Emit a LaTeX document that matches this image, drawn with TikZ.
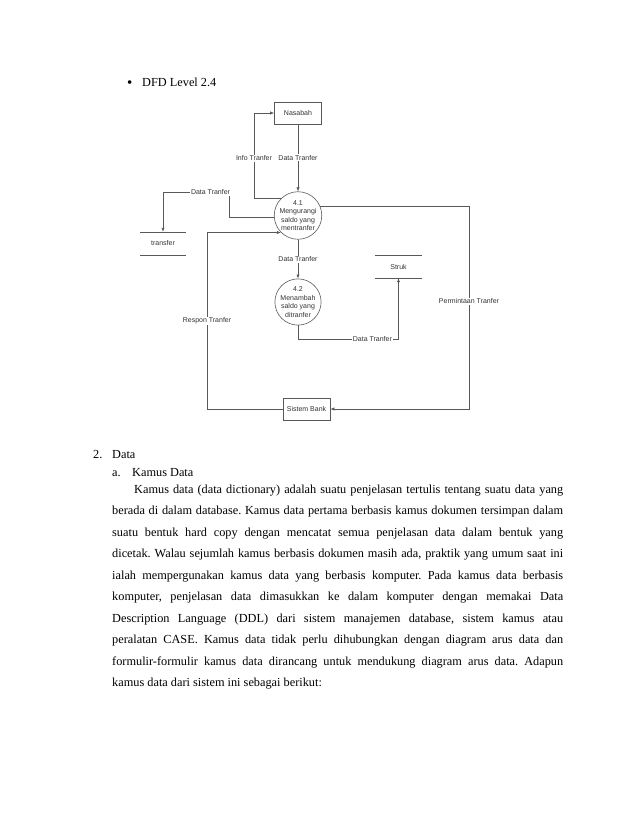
\documentclass[tikz,border=0pt]{standalone}
\usepackage{fontspec}
\setmainfont{Liberation Serif}
\newfontfamily\dfdfont{Liberation Sans}
\usetikzlibrary{arrows.meta,positioning}
\newcommand\dfdtext{\dfdfont\fontsize{7}{8.4}\selectfont}
\newcommand\bodytext{\fontsize{12.3}{21.55}\selectfont\frenchspacing}

\begin{document}
\begin{tikzpicture}[x=1pt, y=-1pt,
    line/.style    = {draw=black!65, line width=0.6pt},
    flow/.style    = {line, -{Latex[length=4pt,width=3.2pt]}},
    entity/.style  = {rectangle, draw=black!65, line width=0.6pt,% external entities
                      minimum width=47pt, minimum height=22pt,
                      inner sep=0pt, font=\dfdtext, text=black!80},
    process/.style = {circle, draw=black!65, line width=0.6pt,% processes
                      minimum size=44pt, inner sep=0pt, align=center,
                      font=\dfdtext, text=black!80},
    store/.style   = {minimum width=46pt, minimum height=23pt,% data stores
                      inner sep=0pt, font=\dfdtext, text=black!80},
    lbl/.style     = {fill=white, inner sep=1pt, font=\dfdtext, text=black!80},
    bodyline/.style = {anchor=base west, inner sep=0pt, font=\bodytext},
                        ]
\useasboundingbox (0,0) rectangle (638,826);
% heading
\node[bodyline, font=\fontsize{15}{15}\selectfont] (bullet) at (127,88) {\textbullet};
\node[bodyline] (dfdtitle) at (142,87) {DFD Level 2.4};
% DFD level 2.4
\node[entity]  (nasabah) at (298,113)   {Nasabah};
\node[process] (p41)     at (298,215.5) {4.1\\Mengurangi\\saldo yang\\mentranfer};
\node[process] (p42)     at (298,302)   {4.2\\Menambah\\saldo yang\\ditranfer};
\node[entity]  (bank)    at (306.5,409) {Sistem Bank};
\node[store]   (trf)     at (163,243.5) {transfer};
\node[store, minimum width=47pt] (struk) at (398.5,266.5) {Struk};
\draw[line] (trf.north west) -- (trf.north east) (trf.south west) -- (trf.south east);
\draw[line] (struk.north west) -- (struk.north east) (struk.south west) -- (struk.south east);
\coordinate (infoturn)  at (254,0);
\coordinate (trfturn)   at (229,192);
\coordinate (rspturn)   at (207,0);
\coordinate (reqturn)   at (469,0);
\coordinate (strukturn) at (0,339);
\draw[flow] (nasabah) -- node[lbl] {Data Tranfer} (p41);
\draw[flow] (p41.135) -- (p41.135 -| infoturn)
            |- node[lbl, pos=0.235] {Info Tranfer} (nasabah.west);
\draw[flow] (p41.184) -| (trfturn)
            -| node[lbl, pos=0.14] {Data Tranfer} (trf.north);
\draw[flow] (bank.west) -| node[lbl, pos=0.75] {Respon Tranfer} (rspturn |- p41.225)
            -- (p41.225);
\draw[flow] (p41) -- node[lbl] {Data Tranfer} (p42);
\draw[flow] (p42.south) |- node[lbl, pos=0.87] {Data Tranfer} (struk.south |- strukturn)
            -- (struk.south);
\draw[flow] (p41.23) -| node[lbl, pos=0.735] {Permintaan Tranfer} (reqturn |- bank.east)
            -- (bank.east);
% section text
\node[bodyline] (num2)  at (93,458)  {2.};
\node[bodyline] (sec2)  at (112,458) {Data};
\node[bodyline] (numa)  at (112,476) {a.};
\node[bodyline] (seca)  at (132,476) {Kamus Data};
\node[bodyline, text width=451pt, align=justify] (para) at (112,493) {%
\hspace*{22pt}Kamus data (data dictionary) adalah suatu penjelasan tertulis tentang suatu data yang\linebreak
berada di dalam database. Kamus data pertama berbasis kamus dokumen tersimpan dalam\linebreak
suatu bentuk hard copy dengan mencatat semua penjelasan data dalam bentuk yang\linebreak
dicetak. Walau sejumlah kamus berbasis dokumen masih ada, praktik yang umum saat ini\linebreak
ialah mempergunakan kamus data yang berbasis komputer. Pada kamus data berbasis\linebreak
komputer, penjelasan data dimasukkan ke dalam komputer dengan memakai Data\linebreak
Description Language (DDL) dari sistem manajemen database, sistem kamus atau\linebreak
peralatan CASE. Kamus data tidak perlu dihubungkan dengan diagram arus data dan\linebreak
formulir-formulir kamus data dirancang untuk mendukung diagram arus data. Adapun\linebreak
kamus data dari sistem ini sebagai berikut:};
\end{tikzpicture}
\end{document}
